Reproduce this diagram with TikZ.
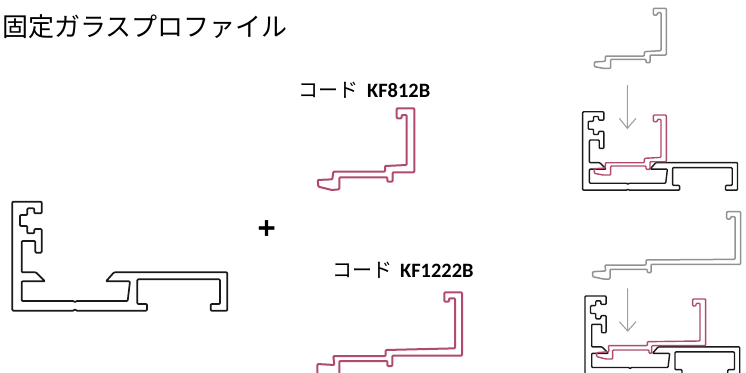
\documentclass[tikz,border=0pt]{standalone}
\usepackage{fontspec}
\setmainfont{Carlito}
\newfontfamily\jpfont{Noto Sans CJK JP}
\newfontfamily\plusfont[UprightFont=* Bold,FakeBold=2]{DejaVu Sans}
\definecolor{pinkline}{HTML}{B04A70}
\definecolor{grayline}{HTML}{929292}
\definecolor{arrowgray}{HTML}{A0A0A0}
\tikzset{
  profile/.style={line width=#1,line join=round,rounded corners=0.9pt},
  baseline/.style={profile=1.7pt,draw=black!90},
  baseinset/.style={profile=1.4pt,draw=black!90},
  pinkbig/.style={profile=2pt,draw=pinkline},
  pinksmall/.style={profile=1.4pt,draw=pinkline},
  graysmall/.style={profile=1.5pt,draw=grayline},
  jptext/.style={inner sep=0pt,anchor=west,font=\jpfont\fontsize{#1}{#1}\selectfont},
  codetext/.style={inner sep=0pt,anchor=west,font=\bfseries\fontsize{20.4}{20.4}\selectfont},
  downarrow/.style={draw=arrowgray,line width=1.1pt},
}
\newcommand{\basepath}{(37,35) -- (125,35) -- (125,70) -- (103,70) -- (103,55) -- (82,55) -- (82,75) -- (60,75) -- (60,108) -- (82,108) -- (82,130) -- (103,130) -- (103,117) -- (125,117) -- (125,188) -- (106,188) -- (106,153) -- (65,153) -- (65,247) -- (108,247) -- (135,274) -- (65,274) -- (65,333) -- (222,333) -- (225,338) -- (228,333) -- (383,333) -- (390,274) -- (318,274) -- (342,247) -- (682,247) -- (682,362) -- (632,362) -- (632,342) -- (660,342) -- (660,268) -- (412,268) -- (412,342) -- (441,342) -- (441,362) -- (228,362) -- (225,357) -- (222,362) -- (37,362) -- cycle}
\newcommand{\shortbig}{(320,115) -- (373,115) -- (373,307) -- (308,307) -- (308,335) -- (292,335) -- (292,322) -- (148,322) -- (148,358) -- (125,360) -- (85,350) -- (83,330) -- (127,328) -- (130,305) -- (285,305) -- (285,288) -- (350,285) -- (350,135) -- (335,135) -- (335,145) -- (320,145) -- cycle}
\newcommand{\shortsmall}{(250,25) -- (289,25) -- (289,165) -- (240,165) -- (240,188) -- (228,188) -- (228,178) -- (122,178) -- (122,205) -- (100,205) -- (73,200) -- (73,186) -- (106,184) -- (106,168) -- (223,168) -- (223,155) -- (273,152) -- (273,38) -- (262,38) -- (262,45) -- (250,45) -- cycle}
\begin{document}
\begin{tikzpicture}[x=1pt,y=-1pt]
\useasboundingbox (0,0) rectangle (746,372);
\clip (0,0) rectangle (746,372);
\fill[white] (0,0) rectangle (746,372);
% texts
\node[jptext=26] (title) at (2,27) {固定ガラスプロファイル};
\node[jptext=20] (code1a) at (298,90) {コード};
\node[codetext] (code1b) at (367,91) {KF812B};
\node[jptext=20] (code2a) at (332,270) {コード};
\node[codetext] (code2b) at (400,271) {KF1222B};
\node[inner sep=0pt,font=\plusfont\fontsize{24}{24}\selectfont] (plus) at (266.5,228) {+};
% base profile
\begin{scope}[shift={(0,190)},scale=1/3]
\draw[baseline] \basepath;
\end{scope}
% KF812B large
\begin{scope}[shift={(290,70)},scale=1/3]
\draw[pinkbig] \shortbig;
\end{scope}
% KF1222B large
\begin{scope}[shift={(300,250)},scale=1/3]
\draw[pinkbig] (433,127) -- (486,127) -- (486,317) -- (277,317) -- (277,348) -- (262,348) -- (262,333) -- (118,333) -- (118,375) -- (100,380) -- (52,372) -- (52,342) -- (103,345) -- (100,318) -- (257,318) -- (257,300) -- (465,295) -- (465,145) -- (447,145) -- (447,155) -- (433,155) -- cycle;
\end{scope}
% top right assembly
\begin{scope}[shift={(570,0)},scale=1/3]
\draw[graysmall] \shortsmall;
\coordinate (a1s) at (172,255);
\coordinate (a1e) at (172,385);
\coordinate (a1l) at (148,355);
\coordinate (a1r) at (198,355);
\end{scope}
\draw[downarrow] (a1s) -- (a1e) (a1l) -- (a1e) -- (a1r);
\begin{scope}[shift={(573.8,103.3)},scale=0.24]
\draw[baseinset] \basepath;
\end{scope}
\begin{scope}[shift={(570,106.7)},scale=1/3]
\draw[pinksmall] \shortsmall;
\end{scope}
% bottom right assembly
\begin{scope}[shift={(570,200)},scale=1/3]
\draw[graysmall] (470,35) -- (512,35) -- (512,193) -- (243,193) -- (243,218) -- (232,218) -- (232,208) -- (120,208) -- (120,237) -- (100,237) -- (68,230) -- (68,215) -- (107,213) -- (105,195) -- (228,195) -- (228,180) -- (495,178) -- (495,50) -- (482,50) -- (482,57) -- (470,57) -- cycle;
\coordinate (a2s) at (173,265);
\coordinate (a2e) at (173,393);
\coordinate (a2l) at (148,365);
\coordinate (a2r) at (198,365);
\end{scope}
\draw[downarrow] (a2s) -- (a2e) (a2l) -- (a2e) -- (a2r);
\begin{scope}[shift={(576.1,287.6)},scale=0.24]
\draw[baseinset] \basepath;
\end{scope}
\begin{scope}[shift={(570,200)},scale=1/3]
\draw[pinksmall] (368,297) -- (407,297) -- (407,437) -- (245,437) -- (245,460) -- (237,460) -- (237,450) -- (128,450) -- (128,477) -- (108,477) -- (80,470) -- (80,458) -- (117,455) -- (115,437) -- (232,437) -- (232,425) -- (390,423) -- (390,310) -- (378,310) -- (378,318) -- (368,318) -- cycle;
\end{scope}
\end{tikzpicture}
\end{document}
